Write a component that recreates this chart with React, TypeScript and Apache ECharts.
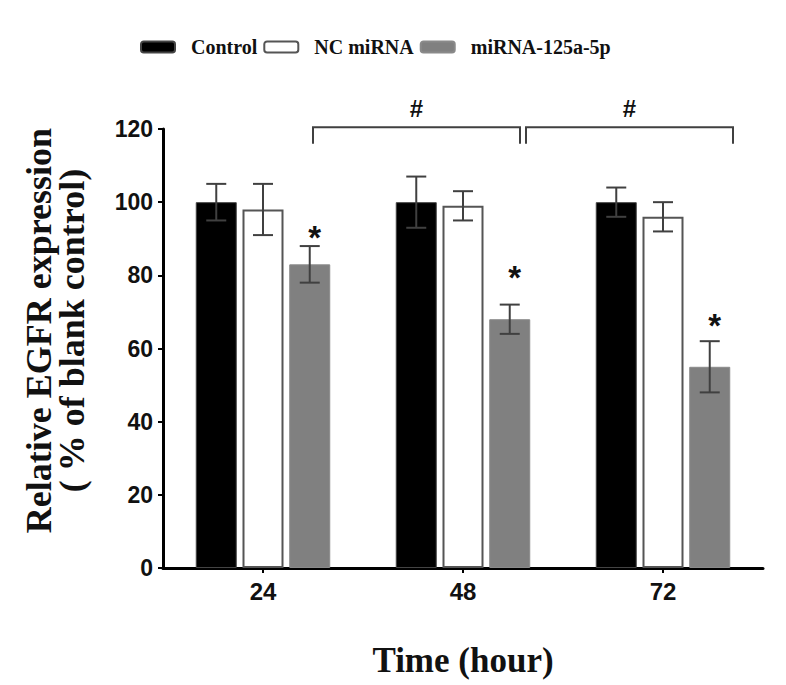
import React, { useEffect, useRef } from 'react';
import * as echarts from 'echarts';

const categories = ['24', '48', '72'];
const seriesNames = ['Control', 'NC miRNA', 'miRNA-125a-5p'];
const controlValues = [100, 100, 100];
const controlErrors = [5, 7, 4];
const ncValues = [98, 99, 96];
const ncErrors = [7, 4, 4];
const mirValues = [83, 68, 55];
const mirErrors = [5, 4, 7];
const starLevels = [92.4, 81.5, 68.6];
// bracket: start/end as category positions, top level, drop level, hash level
const bracketStarts = [0.25, 1.315];
const bracketEnds = [1.285, 2.35];
const bracketTop = [120.5, 120.5];
const bracketDrop = [116, 116];
const hashLevels = [125.7, 125.7];
const yMin = 0;
const yMax = 120;
const yInterval = 20;

const BAR_FRAC = 0.205;
const GAP_FRAC = 0.14;
const SERIF = 'Liberation Serif, Times New Roman, serif';
const SANS = 'Liberation Sans, Arial, sans-serif';
const ERR_COLOR = '#404040';

function errorSeries(k: number, values: number[], errors: number[]) {
  return {
    type: 'custom',
    name: 'err-' + k,
    z: 10,
    clip: false,
    silent: true,
    data: values.map((v, i) => [i, v, errors[i]]),
    renderItem: (params: any, api: any) => {
      const i = api.value(0);
      const v = api.value(1);
      const e = api.value(2);
      const band = api.size([1, 0])[0];
      const off = band * BAR_FRAC * (1 + GAP_FRAC) * (k - 1);
      const top = api.coord([i, v + e]);
      const bot = api.coord([i, v - e]);
      const x = top[0] + off;
      const cap = band * 0.1;
      const style = { stroke: ERR_COLOR, lineWidth: 2 };
      return {
        type: 'group',
        children: [
          { type: 'line', shape: { x1: x, y1: top[1], x2: x, y2: bot[1] }, style },
          { type: 'line', shape: { x1: x - cap / 2, y1: top[1], x2: x + cap / 2, y2: top[1] }, style },
          { type: 'line', shape: { x1: x - cap / 2, y1: bot[1], x2: x + cap / 2, y2: bot[1] }, style },
        ],
      };
    },
  };
}

export default function App() {
  const ref = useRef<HTMLDivElement>(null);
  useEffect(() => {
    if (!ref.current) return;
    const chart = echarts.init(ref.current, null, { renderer: 'svg' });
    const option: any = {
      animation: false,
      backgroundColor: '#ffffff',
      legend: {
        data: seriesNames,
        left: 140,
        top: 37,
        padding: 0,
        itemWidth: 34,
        itemHeight: 11,
        itemGap: 6,
        selectedMode: false,
        textStyle: {
          fontFamily: SERIF,
          fontWeight: 'bold',
          fontSize: 20,
          color: '#111',
          padding: [0, 0, 0, 11],
        },
      },
      grid: { left: 163, right: 23, top: 129, bottom: 117, containLabel: false },
      xAxis: {
        type: 'category',
        data: categories,
        name: 'Time (hour)',
        nameLocation: 'middle',
        nameGap: 75,
        nameTextStyle: { fontFamily: SERIF, fontWeight: 'bold', fontSize: 35, color: '#111' },
        axisLine: { show: true, lineStyle: { color: '#000', width: 3 } },
        axisTick: { show: true, alignWithLabel: true, length: 5, lineStyle: { color: '#000', width: 2 } },
        axisLabel: { fontFamily: SANS, fontWeight: 'bold', fontSize: 24, color: '#111', margin: 11 },
        splitLine: { show: false },
      },
      yAxis: {
        type: 'value',
        min: yMin,
        max: yMax,
        interval: yInterval,
        name: 'Relative EGFR expression\n( % of blank control)',
        nameLocation: 'middle',
        nameGap: 75,
        nameTextStyle: {
          fontFamily: SERIF,
          fontWeight: 'bold',
          fontSize: 36,
          lineHeight: 33,
          color: '#111',
          padding: [0, 0, 0, 36],
        },
        axisLine: { show: true, lineStyle: { color: '#000', width: 3 } },
        axisTick: { show: true, length: 5, lineStyle: { color: '#000', width: 2 } },
        axisLabel: { fontFamily: SANS, fontWeight: 'bold', fontSize: 23, color: '#111', margin: 10 },
        splitLine: { show: false },
      },
      series: [
        {
          type: 'bar',
          name: seriesNames[0],
          data: controlValues,
          barWidth: BAR_FRAC * 100 + '%',
          barGap: GAP_FRAC * 100 + '%',
          itemStyle: { color: '#000000', borderColor: '#444', borderWidth: 1 },
        },
        {
          type: 'bar',
          name: seriesNames[1],
          data: ncValues,
          barWidth: BAR_FRAC * 100 + '%',
          barGap: GAP_FRAC * 100 + '%',
          itemStyle: { color: '#ffffff', borderColor: '#555', borderWidth: 2 },
        },
        {
          type: 'bar',
          name: seriesNames[2],
          data: mirValues,
          barWidth: BAR_FRAC * 100 + '%',
          barGap: GAP_FRAC * 100 + '%',
          itemStyle: { color: '#808080', borderColor: '#8a8a8a', borderWidth: 1 },
        },
        errorSeries(0, controlValues, controlErrors),
        errorSeries(1, ncValues, ncErrors),
        errorSeries(2, mirValues, mirErrors),
        {
          type: 'custom',
          name: 'stars',
          z: 11,
          clip: false,
          silent: true,
          data: starLevels.map((v, i) => [i, v]),
          renderItem: (params: any, api: any) => {
            const band = api.size([1, 0])[0];
            const off = band * BAR_FRAC * (1 + GAP_FRAC);
            const p = api.coord([api.value(0), api.value(1)]);
            return {
              type: 'text',
              x: p[0] + off + 5,
              y: p[1] + 8,
              style: {
                text: '*',
                fontFamily: SANS,
                fontWeight: 'bold',
                fontSize: 33,
                fill: '#111',
                textAlign: 'center',
                textVerticalAlign: 'middle',
              },
            };
          },
        },
        {
          type: 'custom',
          name: 'brackets',
          z: 11,
          clip: false,
          silent: true,
          data: bracketStarts.map((s, i) => [s, bracketEnds[i], bracketTop[i], bracketDrop[i], hashLevels[i]]),
          renderItem: (params: any, api: any) => {
            const band = api.size([1, 0])[0];
            const base = api.coord([0, 0])[0];
            const x1 = base + api.value(0) * band;
            const x2 = base + api.value(1) * band;
            const yTop = api.coord([0, api.value(2)])[1];
            const yDrop = api.coord([0, api.value(3)])[1];
            const yHash = api.coord([0, api.value(4)])[1];
            const style = { stroke: ERR_COLOR, lineWidth: 2, fill: 'none' };
            return {
              type: 'group',
              children: [
                {
                  type: 'polyline',
                  shape: { points: [[x1, yDrop], [x1, yTop], [x2, yTop], [x2, yDrop]] },
                  style,
                },
                {
                  type: 'text',
                  x: (x1 + x2) / 2,
                  y: yHash,
                  style: {
                    text: '#',
                    fontFamily: SANS,
                    fontWeight: 'bold',
                    fontSize: 24,
                    fill: '#111',
                    textAlign: 'center',
                    textVerticalAlign: 'middle',
                  },
                },
              ],
            };
          },
        },
      ],
    };
    chart.setOption(option);
    return () => chart.dispose();
  }, []);
  return (
    <div
      ref={ref}
      style={{ position: 'absolute', left: 0, top: 0, width: 786, height: 685, background: '#fff' }}
    />
  );
}
